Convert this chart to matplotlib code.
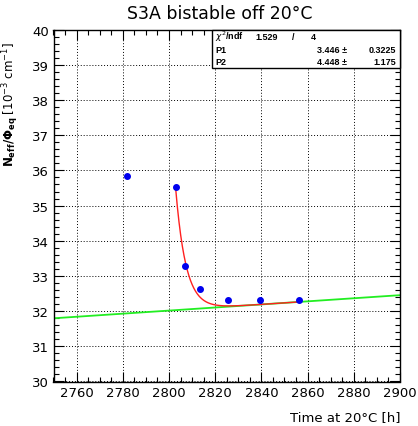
import numpy as np
import matplotlib
matplotlib.use("Agg")
import matplotlib.pyplot as plt
from matplotlib.ticker import MultipleLocator

# measured points (time at 20C [h], Neff/Phi_eq [1e-3 cm^-1])
time_h = [2781.7, 2802.9, 2806.8, 2813.6, 2825.5, 2839.4, 2856.2]
neff = [35.84, 35.52, 33.28, 32.64, 32.32, 32.32, 32.32]

# linear baseline (green)
base_t0 = 2765.8
base_y0 = 31.866
base_slope = 0.00438

# fit parameters from the stats box
p1, p1_err = 3.446, 0.3225
p2, p2_err = 4.448, 1.175
chi2, ndf = 1.529, 4
fit_start, fit_end = 2802.9, 2856.2


def baseline(t):
    return base_y0 + base_slope * (t - base_t0)


W, H = 418, 427
fig = plt.figure(figsize=(W / 100, H / 100), dpi=100)
ax = fig.add_axes([53.5 / W, 1 - 382.5 / H, 346.5 / W, 351.8 / H])

# green baseline over whole x-range
t_full = np.linspace(2750, 2900, 200)
ax.plot(t_full, baseline(t_full), color="#22ee22", lw=1.3, zorder=2)

# red fit curve: baseline + exponential decay
t_fit = np.linspace(fit_start, fit_end, 300)
ax.plot(t_fit, baseline(t_fit) + p1 * np.exp(-(t_fit - fit_start) / p2),
        color="#ff2020", lw=1.0, zorder=3)

ax.plot(time_h, neff, "o", color="#0000ee", ms=4, mec="#0000ee", zorder=4)

ax.set_xlim(2750, 2900)
ax.set_ylim(30, 40)
ax.xaxis.set_major_locator(MultipleLocator(20))
ax.xaxis.set_minor_locator(MultipleLocator(5))
ax.yaxis.set_major_locator(MultipleLocator(1))
ax.yaxis.set_minor_locator(MultipleLocator(0.2))
ax.tick_params(which="both", direction="in", top=True, right=True,
               labelsize=9.5, width=0.8, color="black")
ax.tick_params(which="major", length=7)
ax.tick_params(which="minor", length=3.5)
ax.grid(True, which="major", color="black", linestyle=(0, (1, 2)), lw=0.7)
for s in ax.spines.values():
    s.set_linewidth(1.0)

ax.set_ylabel(r"$\mathbf{N_{eff}/\Phi_{eq}}$ [10$^{-3}$ cm$^{-1}$]",
              fontsize=8.5, labelpad=4)
ax.yaxis.set_label_coords(-32 / 346.5, 0.79)
ax.set_xlabel("Time at 20°C [h]", fontsize=9.5, ha="right")
ax.xaxis.set_label_coords(1.0, -29 / 351.8)

fig.text(220 / W, 1 - 14 / H, "S3A bistable off 20°C", fontsize=12.5,
         ha="center", va="center")

# stats box
bx0, bx1 = 212 / W, 400 / W
by0, by1 = 1 - 69 / H, 1 - 31 / H
box = plt.Rectangle((bx0, by0), bx1 - bx0, by1 - by0, transform=fig.transFigure,
                    facecolor="white", edgecolor="black", lw=1.0, zorder=5)
fig.add_artist(box)
fs = 6.5
rows = [("$\\chi^2$/ndf", f"{chi2:.3f}", "/", f"{ndf}"),
        ("P1", f"{p1:.3f} ±", "", f"{p1_err}"),
        ("P2", f"{p2:.3f} ±", "", f"{p2_err}")]
row_y = [37, 50.5, 62.5]
tk = dict(fontsize=fs, va="center", zorder=6, family="Liberation Sans",
          weight="bold")
fig.text(215 / W, 1 - row_y[0] / H, rows[0][0], **tk)
fig.text(278 / W, 1 - row_y[0] / H, rows[0][1], ha="right", **tk)
fig.text(293 / W, 1 - row_y[0] / H, rows[0][2], ha="center", **tk)
fig.text(313 / W, 1 - row_y[0] / H, rows[0][3], ha="center", **tk)
for (lab, val, _, err), y in zip(rows[1:], row_y[1:]):
    fig.text(215 / W, 1 - y / H, lab, **tk)
    fig.text(347 / W, 1 - y / H, val, ha="right", **tk)
    fig.text(396 / W, 1 - y / H, err, ha="right", **tk)

fig.savefig("out.png", dpi=100)
